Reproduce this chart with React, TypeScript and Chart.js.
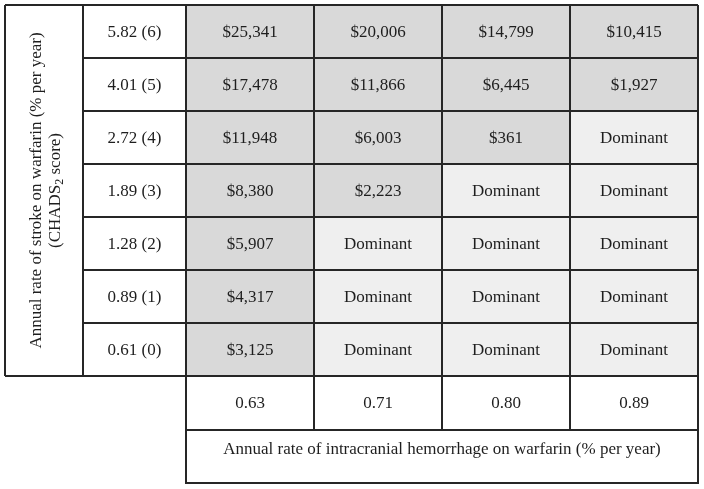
import React, { useEffect, useRef } from "react";
import { Chart, registerables } from "chart.js";

Chart.register(...registerables);

// Rows: annual rate of stroke on warfarin (% per year) and CHADS2 score
const strokeRates = ["5.82 (6)", "4.01 (5)", "2.72 (4)", "1.89 (3)", "1.28 (2)", "0.89 (1)", "0.61 (0)"];
// Columns: annual rate of intracranial hemorrhage on warfarin (% per year)
const ichRates = ["0.63", "0.71", "0.80", "0.89"];
// ICER values per column (null = Dominant)
const icer063: (number | null)[] = [25341, 17478, 11948, 8380, 5907, 4317, 3125];
const icer071: (number | null)[] = [20006, 11866, 6003, 2223, null, null, null];
const icer080: (number | null)[] = [14799, 6445, 361, null, null, null, null];
const icer089: (number | null)[] = [10415, 1927, null, null, null, null, null];
const dominantLabel = "Dominant";
const yTitle = "Annual rate of stroke on warfarin (% per year)";
const yTitle2a = "(CHADS";
const yTitle2sub = "2";
const yTitle2b = " score)";
const xTitle = "Annual rate of intracranial hemorrhage on warfarin (% per year)";

const columns = [icer063, icer071, icer080, icer089];

const SHADED = "#d9d9d9";
const DOMINANT = "#efefef";
const LINE = "#262626";
const TEXT = "#1e1e1e";
const FONT = '17px "Liberation Serif"';
const SUBFONT = '12px "Liberation Serif"';

function fmt(v: number | null) {
  if (v === null) return dominantLabel;
  return "$" + v.toLocaleString("en-US");
}

const tablePlugin = {
  id: "tablePlugin",
  afterDatasetsDraw(chart: any) {
    const { ctx, chartArea } = chart;
    const xs = chart.scales.x;
    const ys = chart.scales.y;
    const nRows = strokeRates.length;
    const rowH = (chartArea.bottom - chartArea.top) / nRows;
    const outerLeft = 5;
    const labelLeft = 83;
    const tickRowBottom = chartArea.bottom + 54;
    const titleRowBottom = tickRowBottom + 53;

    ctx.save();
    // cell texts
    ctx.font = FONT;
    ctx.fillStyle = TEXT;
    ctx.textAlign = "center";
    ctx.textBaseline = "middle";
    columns.forEach((col, c) => {
      const meta = chart.getDatasetMeta(c);
      meta.data.forEach((el: any, r: number) => {
        const cx = (el.x + el.base) / 2;
        ctx.fillText(fmt(col[r]), cx, el.y + 1);
      });
    });
    // row labels
    const labelCx = (labelLeft + chartArea.left) / 2;
    strokeRates.forEach((lab, r) => {
      ctx.fillText(lab, labelCx, ys.getPixelForValue(r) + 1);
    });
    // tick labels row
    ichRates.forEach((lab, c) => {
      const cx = (xs.getPixelForValue(c) + xs.getPixelForValue(c + 1)) / 2;
      ctx.fillText(lab, cx, (chartArea.bottom + tickRowBottom) / 2 + 1);
    });
    // x title
    ctx.fillText(xTitle, (chartArea.left + chartArea.right) / 2, tickRowBottom + 20);

    // y title (rotated)
    const cy = (chartArea.top + chartArea.bottom) / 2;
    ctx.save();
    ctx.translate(37, cy);
    ctx.rotate(-Math.PI / 2);
    ctx.fillText(yTitle, 0, 0);
    ctx.restore();
    ctx.save();
    ctx.translate(56, cy);
    ctx.rotate(-Math.PI / 2);
    ctx.textAlign = "left";
    const wa = ctx.measureText(yTitle2a).width;
    const wb = ctx.measureText(yTitle2b).width;
    ctx.font = SUBFONT;
    const ws = ctx.measureText(yTitle2sub).width;
    const total = wa + ws + wb;
    const x0 = -total / 2;
    ctx.font = FONT;
    ctx.fillText(yTitle2a, x0, 0);
    ctx.font = SUBFONT;
    ctx.fillText(yTitle2sub, x0 + wa, 4);
    ctx.font = FONT;
    ctx.fillText(yTitle2b, x0 + wa + ws, 0);
    ctx.restore();

    // grid lines
    ctx.strokeStyle = LINE;
    ctx.lineWidth = 2;
    ctx.beginPath();
    for (let i = 0; i <= nRows; i++) {
      const y = chartArea.top + i * rowH;
      const x1 = i === 0 || i === nRows ? outerLeft : labelLeft;
      ctx.moveTo(x1, y);
      ctx.lineTo(chartArea.right, y);
    }
    ctx.moveTo(outerLeft, chartArea.top);
    ctx.lineTo(outerLeft, chartArea.bottom);
    ctx.moveTo(labelLeft, chartArea.top);
    ctx.lineTo(labelLeft, chartArea.bottom);
    for (let c = 0; c <= ichRates.length; c++) {
      const x = xs.getPixelForValue(c);
      ctx.moveTo(x, chartArea.top);
      ctx.lineTo(x, tickRowBottom);
    }
    ctx.moveTo(chartArea.left, tickRowBottom);
    ctx.lineTo(chartArea.right, tickRowBottom);
    ctx.moveTo(chartArea.left, tickRowBottom);
    ctx.lineTo(chartArea.left, titleRowBottom);
    ctx.lineTo(chartArea.right, titleRowBottom);
    ctx.lineTo(chartArea.right, tickRowBottom);
    ctx.stroke();
    ctx.restore();
  },
};

export default function App() {
  const ref = useRef<HTMLCanvasElement | null>(null);
  useEffect(() => {
    if (!ref.current) return;
    const chart = new Chart(ref.current, {
      type: "bar",
      data: {
        labels: strokeRates,
        datasets: columns.map((col, c) => ({
          label: ichRates[c],
          data: col.map(() => 1),
          backgroundColor: col.map((v) => (v === null ? DOMINANT : SHADED)),
          borderWidth: 0,
          barPercentage: 1,
          categoryPercentage: 1,
        })),
      },
      options: {
        indexAxis: "y",
        responsive: false,
        animation: false,
        devicePixelRatio: 1,
        layout: { padding: { left: 186, top: 5, right: 6, bottom: 113 } },
        scales: {
          x: { type: "linear", stacked: true, min: 0, max: ichRates.length, display: false },
          y: { type: "category", stacked: true, display: false },
        },
        plugins: { legend: { display: false }, tooltip: { enabled: false } },
      },
      plugins: [tablePlugin],
    } as any);
    return () => chart.destroy();
  }, []);
  return (
    <div style={{ position: "fixed", left: 0, top: 0, width: 704, height: 489, background: "#fff" }}>
      <canvas ref={ref} width={704} height={489} />
    </div>
  );
}
